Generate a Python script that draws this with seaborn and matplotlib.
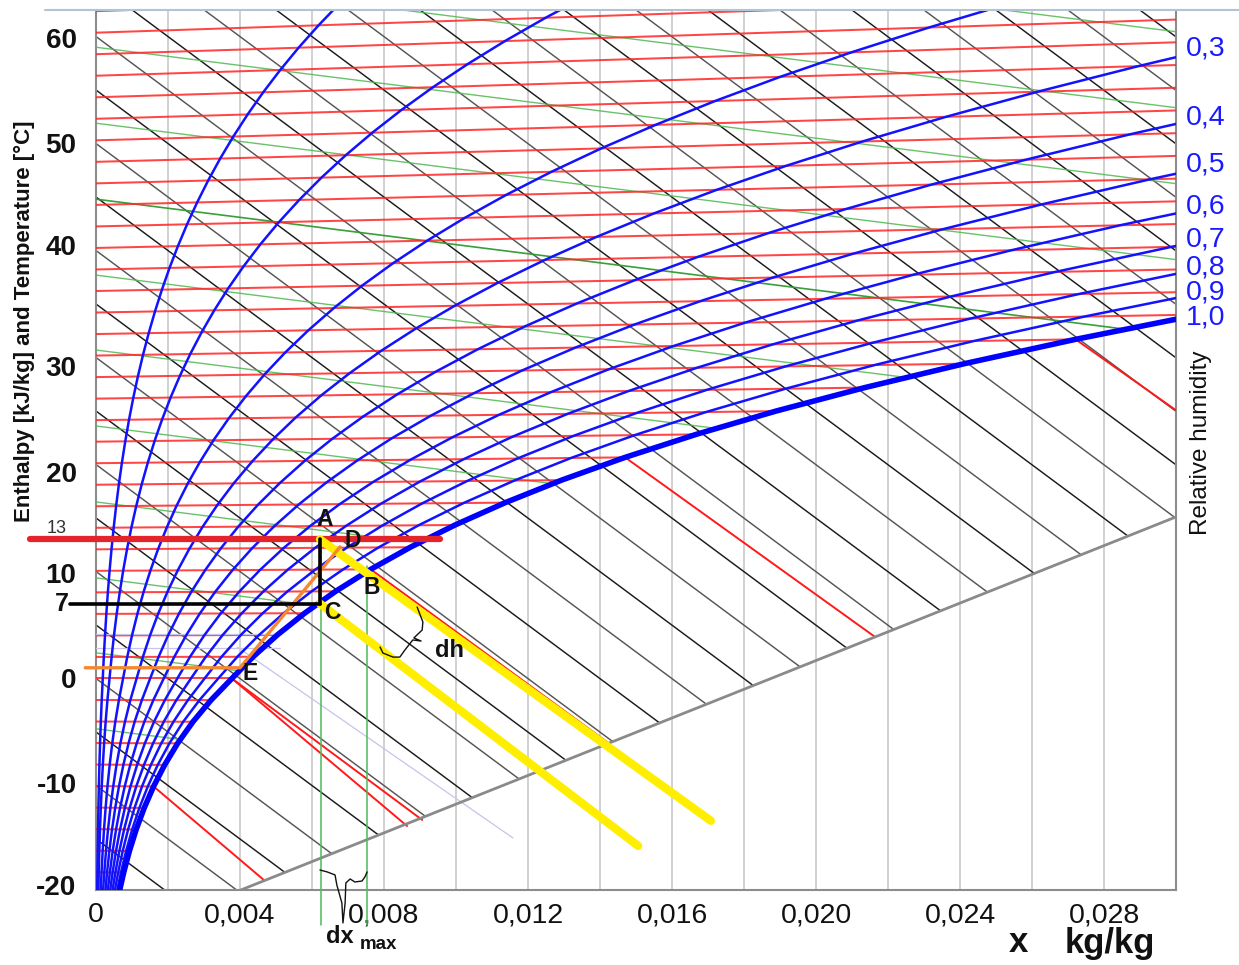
import numpy as np
import matplotlib
matplotlib.use("Agg")
import matplotlib.pyplot as plt
from matplotlib.patches import Polygon
from matplotlib.lines import Line2D
import seaborn as sns

# ------------------------------------------------------------------ data
pressure_kpa = 101.325
temps_c = [-20, -18, -16, -14, -12, -10, -8, -6, -4, -2, 0, 2, 4, 6, 8, 10,
           12, 14, 16, 18, 20, 22, 24, 26, 28, 30, 32, 34, 36, 38, 40, 42,
           44, 46, 48, 50, 52, 54, 56, 58, 60, 62, 64]
sat_pressure_kpa = [0.1032, 0.1252, 0.1510, 0.1815, 0.2176, 0.2599, 0.3097,
                    0.3681, 0.4368, 0.5177, 0.6112, 0.7060, 0.8135, 0.9353,
                    1.0729, 1.2281, 1.4027, 1.5988, 1.8185, 2.0643, 2.3389,
                    2.6448, 2.9852, 3.3633, 3.7828, 4.2467, 4.7592, 5.3247,
                    5.9475, 6.6324, 7.3844, 8.2090, 9.1118, 10.099, 11.177,
                    12.352, 13.631, 15.022, 16.532, 18.170, 19.944, 21.863,
                    23.933]
rh_levels = [0.05, 0.1, 0.2, 0.3, 0.4, 0.5, 0.6, 0.7, 0.8, 0.9, 1.0]
rh_labels = ["0,3", "0,4", "0,5", "0,6", "0,7", "0,8", "0,9", "1,0"]

isotherm_temps = [-20, -18, -16, -14, -12, -10, -8, -6, -4, -2, 0, 2, 4, 6,
                  8, 10, 12, 14, 16, 18, 20, 22, 24, 26, 28, 30, 32, 34, 36,
                  38, 40, 42, 44, 46, 48, 50, 52, 54, 56, 58, 60, 62]
isenthalp_values = [-20, -15, -10, -5, 0, 5, 10, 15, 20, 25, 30, 35, 40, 45,
                    50, 55, 60, 65, 70, 75, 80, 85, 90, 95, 100, 105, 110,
                    115, 120, 125, 130, 135]
green_intercepts = [-4.7, 2.4, 9.4, 16.5, 23.6, 30.7, 37.7, 44.8, 51.9, 59.0,
                    66.1, 73.2]
green_slope = -425.0
green_dark = [44.8]

fog_temps = [-10, 0, 0, 10, 20, 30]
fog_phase = ["ice", "ice", "water", "water", "water", "water"]
fog_end_x = [0.00464, 0.00864, 0.00906, 0.01428, 0.02164, 0.0300]

grid_x = [0.002, 0.004, 0.006, 0.008, 0.010, 0.012, 0.014, 0.016, 0.018,
          0.020, 0.022, 0.024, 0.026, 0.028]
boundary_x = [0.004, 0.030]
boundary_y = [-19.8, 15.1]

xtick_vals = [0, 0.004, 0.008, 0.012, 0.016, 0.020, 0.024, 0.028]
xtick_labels = ["0", "0,004", "0,008", "0,012", "0,016", "0,020", "0,024", "0,028"]
ytick_labels = ["60", "50", "40", "30", "20", "10", "0", "-10", "-20"]

# process lines drawn on top of the diagram
line13_x, line13_y = [-0.00183, 0.00956], [13, 13]
line7_x, line7_y = [-0.00072, 0.00622], [7, 7]
lineAC_x, lineAC_y = [0.00622, 0.00622], [13, 7]
orange_x, orange_y = [-0.0003, 0.0040, 0.00678], [1.0, 1.0, 12.3]
yellow1_x, yellow1_y = [0.00622, 0.01708], [13, -13.3]
yellow2_x, yellow2_y = [0.00622, 0.01506], [7, -15.65]
gv1_x, gv1_y = [0.00625, 0.00625], [13, -23.0]
gv2_x, gv2_y = [0.00753, 0.00753], [10.5, -23.0]
lav1_x, lav1_y = [-0.0001, 0.0051], [4.16, 4.16]
lav2_x, lav2_y = [-0.0001, 0.0051], [2.85, 2.85]
lav3_x, lav3_y = [0.00392, 0.01158], [2.94, -14.9]

brace_dx_x = [0.00622, 0.00642, 0.00664, 0.00669, 0.00683, 0.00686, 0.00692,
              0.00694, 0.00706, 0.00719, 0.00739, 0.00747, 0.00753]
brace_dx_y = [-17.90, -18.08, -18.36, -19.30, -20.98, -22.85, -20.98,
              -19.11, -18.74, -19.02, -18.93, -18.55, -18.08]
brace_dh_x = [0.00892, 0.00908, 0.00906, 0.00883, 0.00903, 0.00880, 0.00858,
              0.00844, 0.00825, 0.00797, 0.00789]
brace_dh_y = [6.68, 5.28, 4.53, 3.79, 3.50, 3.60, 2.66, 2.00, 2.00, 2.38, 2.94]

point_labels = ["A", "D", "B", "C", "E"]
point_x = [0.00636, 0.00714, 0.00767, 0.00656, 0.00428]
point_y = [14.9, 12.94, 8.46, 6.21, 0.51]

# ------------------------------------------------------------------ style
sns.set_theme(style="white")
plt.rcParams["font.family"] = ["Liberation Sans", "DejaVu Sans"]

W, H = 1239, 965
fig = plt.figure(figsize=(W / 100, H / 100), dpi=100)
ax = fig.add_axes([96 / W, 75 / H, 1080 / W, 880 / H])
YMIN, YMAX = -19.77, 62.48


def draw(xv, yv, **kw):
    sns.lineplot(x=np.asarray(xv, float), y=np.asarray(yv, float), sort=False,
                 estimator=None, ax=ax, legend=False, **kw)
    return ax.lines[-1]


T = np.asarray(temps_c, float)
PS = np.asarray(sat_pressure_kpa, float)


def rh_curve(phi):
    x = 0.622 * phi * PS / (pressure_kpa - phi * PS)
    y = 1.006 * T + 1.86 * T * x
    return x, y


def sat_point(t):
    ps = PS[temps_c.index(t)]
    xs = 0.622 * ps / (pressure_kpa - ps)
    return xs, 1.006 * t + 1.86 * t * xs


sat_x, sat_y = rh_curve(1.0)
verts = ([(-0.01, -40), (sat_x[0], -40)] + list(zip(sat_x, sat_y))
         + [(sat_x[-1], 150), (-0.01, 150)])
clip_poly = Polygon(verts, closed=True, transform=ax.transData)

# vertical grid
for gx in grid_x:
    draw([gx, gx], [-40, 100], color="#c9c9c9", linewidth=1.2, zorder=1)

# isenthalps
g0, gx0 = boundary_y[0], boundary_x[0]
gs = (boundary_y[1] - boundary_y[0]) / (boundary_x[1] - boundary_x[0])
for h in isenthalp_values:
    xe = (h - g0 + gs * gx0) / (2501 + gs)
    if xe < gx0:
        xe = (h + 40) / 2501
    col = "#1a1a1a" if h % 10 == 5 else "#555555"
    draw([0, xe], [h, h - 2501 * xe], color=col, linewidth=1.05, zorder=2)

# green lines (unsaturated region)
for b in green_intercepts:
    col = "#2e9a2e" if b in green_dark else "#4fb84f"
    ln = draw([0, 0.03], [b, b + green_slope * 0.03], color=col,
              linewidth=1.2 if b in green_dark else 1.0,
              alpha=0.95 if b in green_dark else 0.85, zorder=3)
    ln.set_clip_path(clip_poly)

# isotherms (unsaturated region)
for t in isotherm_temps:
    ln = draw([0, 0.03], [1.006 * t, 1.006 * t + 1.86 * t * 0.03],
              color="#ff2626", linewidth=1.45, alpha=0.85, zorder=4)
    ln.set_clip_path(clip_poly)

# fog isotherms
for t, ph, xe in zip(fog_temps, fog_phase, fog_end_x):
    xs, ys = sat_point(t)
    c = 4.19 * t if ph == "water" else (-333 + 2.05 * t)
    draw([xs, xe], [ys, ys + (c - 2501) * (xe - xs)], color="#ff1a1a",
         linewidth=1.4, zorder=4)

# faint lavender lines
for lx, ly in [(lav1_x, lav1_y), (lav2_x, lav2_y), (lav3_x, lav3_y)]:
    draw(lx, ly, color="#c4c4ee", linewidth=0.9, zorder=4)

# relative humidity curves
for phi in rh_levels:
    cx, cy = rh_curve(phi)
    if phi == 1.0:
        draw(cx, cy, color="#0000ff", linewidth=4.0, zorder=6)
    else:
        draw(cx, cy, color="#1212ff", linewidth=1.8, zorder=5)

# lower boundary line
draw(boundary_x, boundary_y, color="#8a8a8a", linewidth=2.0, zorder=6)

# process lines
draw(line13_x, line13_y, color="#e3242b", linewidth=4.5, zorder=8, clip_on=False)
draw(gv1_x, gv1_y, color="#4cbb5a", linewidth=1.1, zorder=7, clip_on=False)
draw(gv2_x, gv2_y, color="#4cbb5a", linewidth=1.1, zorder=7, clip_on=False)
draw(yellow1_x, yellow1_y, color="#ffee00", linewidth=6.0, zorder=8,
     solid_capstyle="round")
draw(yellow2_x, yellow2_y, color="#ffee00", linewidth=6.0, zorder=8,
     solid_capstyle="round")
draw(orange_x, orange_y, color="#f5872f", linewidth=2.4, zorder=9, clip_on=False)
draw(line7_x, line7_y, color="#000000", linewidth=2.6, zorder=9, clip_on=False)
draw(lineAC_x, lineAC_y, color="#000000", linewidth=2.6, zorder=9)
draw(brace_dx_x, brace_dx_y, color="#111111", linewidth=1.0, zorder=9, clip_on=False)
draw(brace_dh_x, brace_dh_y, color="#111111", linewidth=1.0, zorder=9)

for lab, px, py in zip(point_labels, point_x, point_y):
    ax.text(px, py, lab, fontsize=16.5, fontweight="bold", color="#111111",
            ha="center", va="center", zorder=10)
ax.text(0.00983, 2.66, "dh", fontsize=17, fontweight="bold", color="#111111",
        ha="center", va="center", zorder=10)
ax.text(0.00640, -24.7, "dx", fontsize=17, fontweight="bold", color="#111111",
        ha="left", va="baseline", clip_on=False)
ax.text(0.00733, -25.3, "max", fontsize=13.5, fontweight="bold", color="#111111",
        ha="left", va="baseline", clip_on=False)

# extra left labels
ax.text(-0.00108, 14.0, "13", fontsize=13, color="#333333", ha="center",
        va="center", clip_on=False)
ax.text(-0.00095, 6.95, "7", fontsize=18, fontweight="bold", color="#111111",
        ha="center", va="center", clip_on=False)

# RH labels on the right
rh_label_y = [58.9, 52.4, 48.0, 44.1, 41.0, 38.4, 36.1, 33.7]
for lab, yy in zip(rh_labels, rh_label_y):
    ax.text(0.03028, yy, lab, fontsize=20.5, color="#1a1aff", ha="left",
            va="center", clip_on=False)

# axes
ax.set_xlim(0, 0.030)
ax.set_ylim(YMIN, YMAX)
ax.set_xlabel("")
ax.set_ylabel("")
ax.set_xticks(xtick_vals)
ax.set_xticklabels(xtick_labels, fontsize=20.5)
ax.set_xticks([0.001 * k for k in range(1, 30)], minor=True)
ytick_pos = [59.86, 50.05, 40.51, 29.21, 19.3, 9.86, 0.05, -9.77, -19.3]
ax.set_yticks(ytick_pos)
ax.set_yticklabels(ytick_labels, fontsize=20, fontweight="bold")
ax.tick_params(axis="x", which="major", length=0, pad=9, colors="#111111")
ax.tick_params(axis="x", which="minor", direction="in", length=4, width=1,
               color="#a0a0a0")
ax.tick_params(axis="y", which="major", length=0, pad=14, colors="#111111")
ax.grid(False)
for side in ["left", "right", "bottom"]:
    ax.spines[side].set_color("#8c8c8c")
    ax.spines[side].set_linewidth(1.5)
ax.spines["top"].set_visible(False)

fig.add_artist(Line2D([45 / W, 1.0], [1 - 10 / H, 1 - 10 / H],
                      color="#b4c3d4", linewidth=1.5))

fig.text(24 / W, 1 - 321 / H, "Enthalpy [kJ/kg] and Temperature [°C]",
         rotation=90, fontsize=16, fontweight="bold", ha="center",
         va="center", color="#111111")
fig.text(1201 / W, 1 - 443 / H, "Relative humidity", rotation=90,
         fontsize=17.5, ha="center", va="center", color="#111111")
fig.text(1018 / W, 1 - 943 / H, "x", fontsize=25, fontweight="bold",
         ha="center", va="center", color="#111111")
fig.text(1110 / W, 1 - 943 / H, "kg/kg", fontsize=25, fontweight="bold",
         ha="center", va="center", color="#111111")

fig.savefig("out.png", dpi=100)
